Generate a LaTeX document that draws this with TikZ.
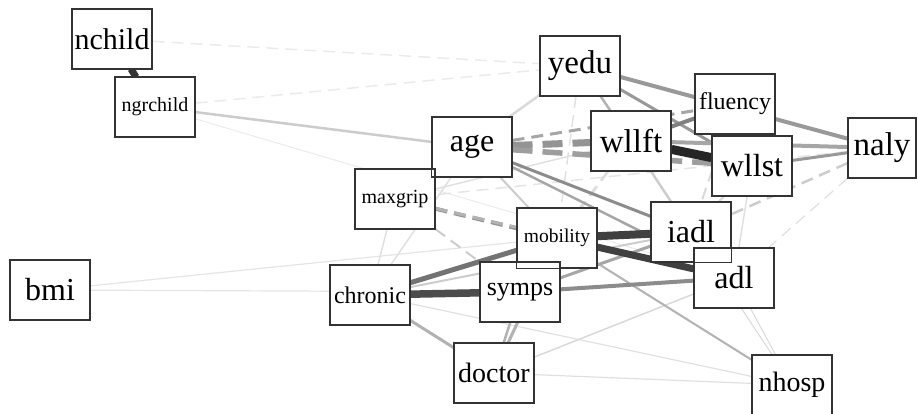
\documentclass[tikz,border=0pt]{standalone}
\usepackage{fontspec}
\setmainfont{Liberation Serif}
\usetikzlibrary{backgrounds}

\begin{document}
\begin{tikzpicture}[
    x=1pt, y=-1pt,
    var/.style={draw=black!80, line width=1.1pt, fill=white,
                minimum width=80pt, minimum height=59pt, inner sep=0pt,
                font=\fontsize{#1}{#1}\selectfont},
    var/.default=32,
    boxline/.style={draw=black!80, line width=1.1pt},
    link/.style 2 args={draw=black!#1, line width=#2pt},
    neg/.style={dash pattern=on 12pt off 7pt},
    bigneg/.style={dash pattern=on 20pt off 10pt},
]
\useasboundingbox (0,0) rectangle (918,414);

% Variables
\node[var=30] (nchild)   at (112,39)  {nchild};
\node[var=20] (ngrchild) at (155,107) {ngrchild};
\node[var=33] (yedu)     at (580,66)  {yedu};
\node[var]    (age)      at (472,147) {age};
\node[var=20] (maxgrip)  at (395,199) {maxgrip};
\node[var=24] (fluency)  at (735,104) {fluency};
\node[var=33] (wllft)    at (631,141) {wllft};
\node[var]    (wllst)    at (752,166) {wllst};
\node[var=33, minimum width=68pt] (naly) at (882,148) {naly};
\node[var]    (iadl)     at (691,232) {iadl};
\node[var]    (adl)      at (734,278) {adl};
\node[var=19.5] (mobility) at (557,238) {mobility};
\node[var=26] (symps)    at (520,292) {symps};
\node[var=24] (chronic)  at (370,295) {chronic};
\node[var=28] (doctor)   at (494,373) {doctor};
\node[var=28] (nhosp)    at (792,385) {nhosp};
\node[var]    (bmi)      at (50,290)  {bmi};

\begin{scope}[on background layer]
% weak edges
\draw[link={8}{1.5}, neg] (nchild) -- (yedu);
\draw[link={8}{1.5}, neg] (ngrchild) -- (yedu);
\draw[link={8}{1}] (ngrchild) -- (adl);
\draw[link={10}{1.2}] (bmi) -- (mobility);
\draw[link={10}{1.2}] (bmi) -- (symps);
\draw[link={12}{1.2}] (chronic) -- (nhosp);
\draw[link={12}{1.2}] (doctor) -- (nhosp);
\draw[link={15}{1}] (iadl) -- (nhosp);
\draw[link={15}{1}] (adl) -- (nhosp);
\draw[link={15}{1.5}] (doctor) -- (adl);
\draw[link={12}{1.2}, neg] (naly) -- (adl);
\draw[link={20}{2.5}, neg] (naly) -- (iadl);
\draw[link={10}{1.5}, neg] (naly) -- (maxgrip);
\draw[link={15}{2}] (wllst) -- (iadl);
\draw[link={12}{1.5}] (wllst) -- (adl);
\draw[link={15}{2}, neg] (wllft) -- (mobility);
\draw[link={12}{1.5}, neg] (wllft) -- (symps);
\draw[link={12}{1.5}] (maxgrip) -- (wllft);
\draw[link={20}{2.5}] (wllft) -- (iadl);
\draw[link={15}{2}, neg] (fluency) -- (iadl);
\draw[link={20}{2}, neg] (maxgrip) -- (symps);
\draw[link={12}{1.5}] (maxgrip) -- (chronic);
\draw[link={15}{2}] (age) -- (maxgrip);
\draw[link={20}{2}] (age) -- (mobility);
\draw[link={12}{1.5}] (age) -- (chronic);
\draw[link={12}{1.5}, neg] (yedu) -- (mobility);
\draw[link={20}{2}] (chronic) -- (iadl);

% medium edges
\draw[link={20}{2.5}] (ngrchild) -- (age);
\draw[link={15}{2.5}] (yedu) -- (maxgrip);
\draw[link={30}{2.5}] (yedu) -- (wllft);
\draw[link={40}{3}] (yedu) -- (wllst);
\draw[link={40}{4}] (yedu) -- (naly);
\draw[link={35}{4}] (wllft) -- (naly);
\draw[link={40}{3}] (wllst) -- (naly);
\draw[link={50}{4}] (wllft) -- (fluency);
\draw[link={42}{7}, bigneg] (age) -- (wllft);
\draw[link={38}{5.5}, bigneg] (age) -- (wllst);
\draw[link={35}{3}, neg] (age) -- (fluency);
\draw[link={45}{3}] (age) -- (iadl);
\draw[link={35}{2.5}] (age) -- (adl);
\draw[link={42}{4}, neg] (maxgrip) -- (mobility);
\draw[link={30}{3}, neg] (maxgrip) -- (adl);
\draw[link={30}{2}] (mobility) -- (nhosp);
\draw[link={45}{4}] (symps) -- (adl);
\draw[link={35}{3}] (symps) -- (iadl);
\draw[link={30}{3}] (symps) -- (mobility);
\draw[link={30}{3}] (chronic) -- (doctor);
\draw[link={30}{3}] (doctor) -- (mobility);
\draw[link={30}{2.5}] (doctor) -- (symps);

% strong edges
\draw[link={55}{5}] (chronic) -- (mobility);
\draw[link={50}{5}] (iadl) -- (adl);
\draw[link={75}{5}] (fluency) -- (wllst);
\draw[link={70}{7.5}] (chronic) -- (symps);
\draw[link={75}{7}] (mobility) -- (adl);
\draw[link={75}{8}] (mobility) -- (iadl);
\draw[link={85}{9}] (wllft) -- (wllst);
\draw[link={80}{7}] (nchild) -- (ngrchild);
\end{scope}

% box outlines on top
\foreach \n in {nchild,ngrchild,yedu,age,maxgrip,fluency,wllft,wllst,naly,
                iadl,adl,mobility,symps,chronic,doctor,nhosp,bmi}
    \draw[boxline] (\n.south west) rectangle (\n.north east);

\end{tikzpicture}
\end{document}
